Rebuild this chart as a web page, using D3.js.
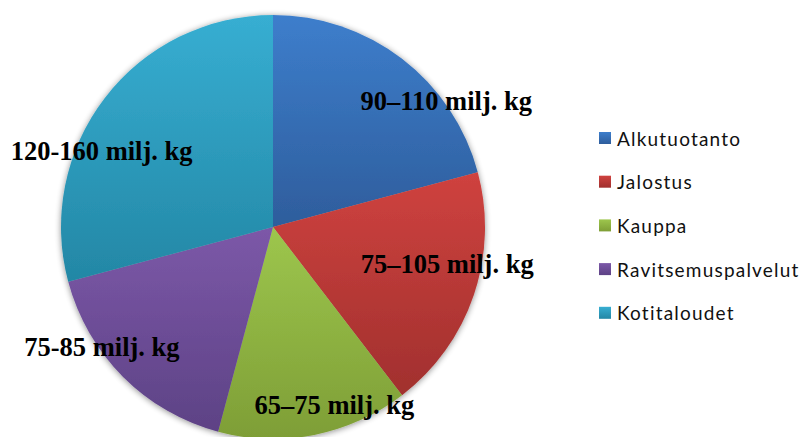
<!DOCTYPE html>
<html>
<head>
<meta charset="utf-8">
<script src="https://cdn.jsdelivr.net/npm/d3@7"></script>
<style>
  html, body { margin: 0; padding: 0; background: #fff; }
  svg { display: block; }
</style>
</head>
<body>
<svg id="chart" width="811" height="437"></svg>
<script>
// Food waste by sector (million kg), ranges shown in labels, slices sized by range midpoints
const categories = ["Alkutuotanto", "Jalostus", "Kauppa", "Ravitsemuspalvelut", "Kotitaloudet"];
const values = [100, 90, 70, 80, 140];
const labels = ["90–110 milj. kg", "75–105 milj. kg", "65–75 milj. kg", "75-85 milj. kg", "120-160 milj. kg"];
const colorsTop = ["#3d7ecc", "#cf423f", "#9dc64d", "#7c58a8", "#37aed2"];
const colorsBottom = ["#2e5d9c", "#a1302e", "#7e9e36", "#5d4285", "#2387a5"];

const width = 811, height = 437;
const cx = 273, cy = 227, radius = 212;

const svg = d3.select("#chart");
const defs = svg.append("defs");

// soft shadow around the pie
const shadow = defs.append("filter").attr("id", "pieShadow")
  .attr("x", "-10%").attr("y", "-10%").attr("width", "120%").attr("height", "120%");
shadow.append("feGaussianBlur").attr("in", "SourceAlpha").attr("stdDeviation", 3).attr("result", "blur");
shadow.append("feOffset").attr("in", "blur").attr("dx", 0).attr("dy", 1).attr("result", "off");
shadow.append("feComponentTransfer").attr("in", "off").attr("result", "shade")
  .append("feFuncA").attr("type", "linear").attr("slope", 0.45);
const merge = shadow.append("feMerge");
merge.append("feMergeNode").attr("in", "shade");
merge.append("feMergeNode").attr("in", "SourceGraphic");

// vertical gradient per slice
categories.forEach((c, i) => {
  const g = defs.append("linearGradient").attr("id", "grad" + i)
    .attr("x1", 0).attr("y1", 0).attr("x2", 0).attr("y2", 1);
  g.append("stop").attr("offset", "0%").attr("stop-color", colorsTop[i]);
  g.append("stop").attr("offset", "100%").attr("stop-color", colorsBottom[i]);
});

const pie = d3.pie().sort(null).value(d => d);
const arcs = pie(values);
const arc = d3.arc().innerRadius(0).outerRadius(radius);

const gPie = svg.append("g").attr("transform", `translate(${cx},${cy})`);
gPie.append("g").attr("filter", "url(#pieShadow)")
  .selectAll("path").data(arcs).join("path")
  .attr("d", arc)
  .attr("fill", (d, i) => `url(#grad${i})`);

// label placement: polar angle (deg, clockwise from top) and distance as share of radius
const labelPolar = [[54, 1.01], [102, 0.84], [161, 0.89], [235, 0.985], [294, 0.885]];
gPie.selectAll("text.lbl").data(arcs).join("text")
  .attr("class", "lbl")
  .attr("x", (d, i) => Math.sin(labelPolar[i][0] * Math.PI / 180) * radius * labelPolar[i][1])
  .attr("y", (d, i) => -Math.cos(labelPolar[i][0] * Math.PI / 180) * radius * labelPolar[i][1])
  .attr("text-anchor", "middle")
  .attr("dominant-baseline", "central")
  .attr("font-family", "'Liberation Serif', 'Times New Roman', serif")
  .attr("font-weight", "bold")
  .attr("font-size", 26.5)
  .attr("fill", "#000")
  .text((d, i) => labels[i]);

// legend
const legend = svg.append("g").attr("transform", "translate(599,138)");
const rows = legend.selectAll("g").data(categories).join("g")
  .attr("transform", (d, i) => `translate(0,${i * 43.7})`);
rows.append("rect").attr("x", 0).attr("y", -6).attr("width", 12).attr("height", 12)
  .attr("fill", (d, i) => `url(#grad${i})`);
rows.append("text").attr("x", 18).attr("y", 0)
  .attr("dominant-baseline", "central")
  .attr("font-family", "Lato, 'Open Sans', sans-serif")
  .attr("font-size", 19)
  .attr("letter-spacing", 1.2)
  .attr("fill", "#111")
  .text(d => d);
</script>
</body>
</html>
